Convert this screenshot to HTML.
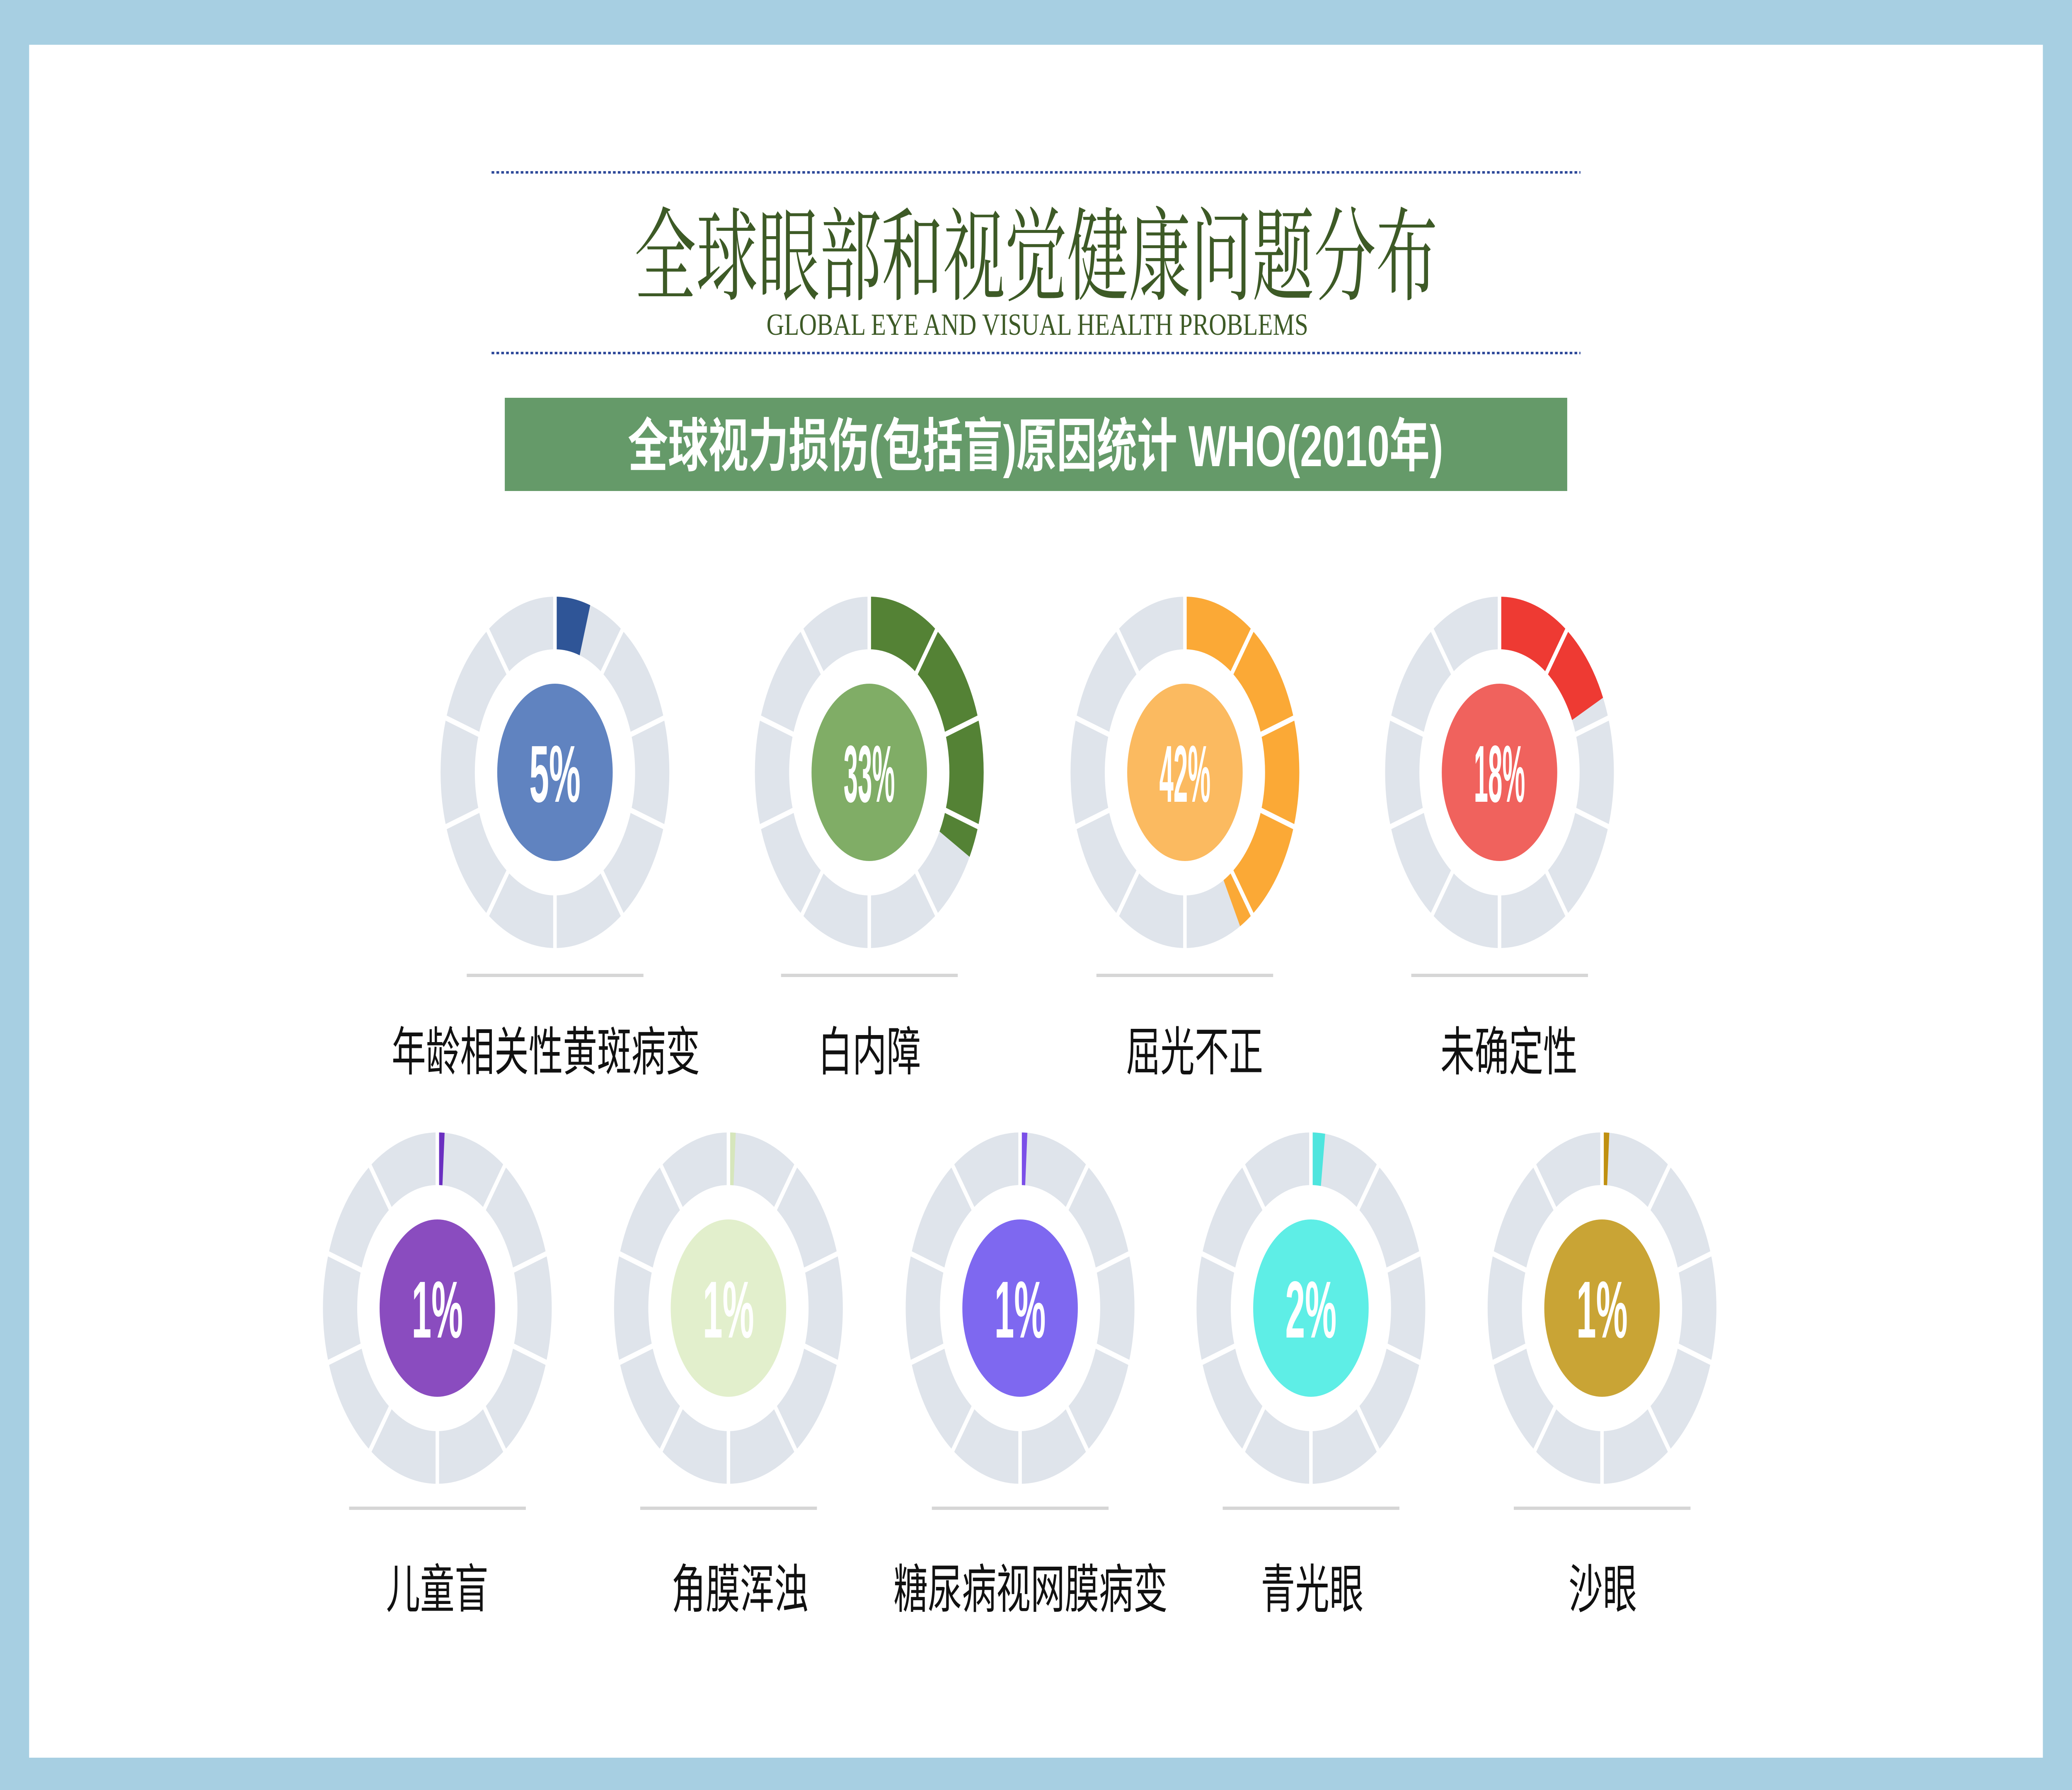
<!DOCTYPE html>
<html><head><meta charset="utf-8"><style>
html,body{margin:0;padding:0;background:#a7cfe2;overflow:hidden;}
svg{display:block;width:100vw;height:100vh;}
</style></head><body>
<svg viewBox="0 0 7680 4320" preserveAspectRatio="none" xmlns="http://www.w3.org/2000/svg">
<defs>
<g id="ring"><circle r="360.5" fill="none" stroke="#dfe4eb" stroke-width="127"/></g>
<g id="spokes" stroke="#fff" stroke-width="13">
<line x1="0" y1="-285" x2="0" y2="-440" transform="rotate(0)"/>
<line x1="0" y1="-285" x2="0" y2="-440" transform="rotate(36)"/>
<line x1="0" y1="-285" x2="0" y2="-440" transform="rotate(72)"/>
<line x1="0" y1="-285" x2="0" y2="-440" transform="rotate(108)"/>
<line x1="0" y1="-285" x2="0" y2="-440" transform="rotate(144)"/>
<line x1="0" y1="-285" x2="0" y2="-440" transform="rotate(180)"/>
<line x1="0" y1="-285" x2="0" y2="-440" transform="rotate(216)"/>
<line x1="0" y1="-285" x2="0" y2="-440" transform="rotate(252)"/>
<line x1="0" y1="-285" x2="0" y2="-440" transform="rotate(288)"/>
<line x1="0" y1="-285" x2="0" y2="-440" transform="rotate(324)"/>
</g>
</defs>
<rect x="0" y="0" width="7680" height="4320" fill="#a7cfe2"/>
<rect x="108" y="108" width="7464" height="4134" fill="#ffffff"/>
<line x1="1822" y1="416" x2="5858" y2="416" stroke="#2f4a9a" stroke-width="6" stroke-dasharray="10,8"/>
<line x1="1822" y1="852" x2="5858" y2="852" stroke="#2f4a9a" stroke-width="6" stroke-dasharray="10,8"/>
<text x="2351" y="705" font-family="'Liberation Serif','Noto Serif CJK SC',serif" font-size="245" fill="#3d5a26" textLength="2978" lengthAdjust="spacingAndGlyphs">全球眼部和视觉健康问题分布</text>
<text x="2841" y="808" font-family="'Liberation Serif',serif" font-size="74" fill="#3d5a26" textLength="2008" lengthAdjust="spacingAndGlyphs">GLOBAL EYE AND VISUAL HEALTH PROBLEMS</text>
<rect x="1871" y="960" width="3938" height="225" fill="#659a69"/>
<text x="2327" y="1125" font-family="'Liberation Sans','Noto Sans CJK SC',sans-serif" font-weight="bold" font-size="140" fill="#fff" textLength="3022" lengthAdjust="spacingAndGlyphs">全球视力损伤(包括盲)原因统计 WHO(2010年)</text>

<g font-family="'Liberation Sans',sans-serif" font-weight="bold" font-size="195" fill="#fff" text-anchor="middle">
<g transform="translate(2057,1864)">
<use href="#ring"/>
<circle r="360.5" fill="none" stroke="#2f5597" stroke-width="127" stroke-dasharray="113 3000" transform="rotate(-90)"/>
<use href="#spokes"/>
<circle r="214" fill="#6083c0"/>
<text y="71" textLength="190" lengthAdjust="spacingAndGlyphs">5%</text>
</g>
<g transform="translate(3222,1864)">
<use href="#ring"/>
<circle r="360.5" fill="none" stroke="#548235" stroke-width="127" stroke-dasharray="747 3000" transform="rotate(-90)"/>
<use href="#spokes"/>
<circle r="214" fill="#80ad66"/>
<text y="71" textLength="190" lengthAdjust="spacingAndGlyphs">33%</text>
</g>
<g transform="translate(4392,1864)">
<use href="#ring"/>
<circle r="360.5" fill="none" stroke="#fba936" stroke-width="127" stroke-dasharray="951 3000" transform="rotate(-90)"/>
<use href="#spokes"/>
<circle r="214" fill="#fbba60"/>
<text y="71" textLength="190" lengthAdjust="spacingAndGlyphs">42%</text>
</g>
<g transform="translate(5558,1864)">
<use href="#ring"/>
<circle r="360.5" fill="none" stroke="#ee3a33" stroke-width="127" stroke-dasharray="408 3000" transform="rotate(-90)"/>
<use href="#spokes"/>
<circle r="214" fill="#f0625d"/>
<text y="71" textLength="190" lengthAdjust="spacingAndGlyphs">18%</text>
</g>
<g transform="translate(1621,3157)">
<use href="#ring"/>
<circle r="360.5" fill="none" stroke="#6a2fc0" stroke-width="127" stroke-dasharray="23 3000" transform="rotate(-90)"/>
<use href="#spokes"/>
<circle r="214" fill="#8a4cbf"/>
<text y="71" textLength="190" lengthAdjust="spacingAndGlyphs">1%</text>
</g>
<g transform="translate(2700,3157)">
<use href="#ring"/>
<circle r="360.5" fill="none" stroke="#d6e6bc" stroke-width="127" stroke-dasharray="23 3000" transform="rotate(-90)"/>
<use href="#spokes"/>
<circle r="214" fill="#e2efcc"/>
<text y="71" textLength="190" lengthAdjust="spacingAndGlyphs">1%</text>
</g>
<g transform="translate(3781,3157)">
<use href="#ring"/>
<circle r="360.5" fill="none" stroke="#7b4fe8" stroke-width="127" stroke-dasharray="23 3000" transform="rotate(-90)"/>
<use href="#spokes"/>
<circle r="214" fill="#7e68f0"/>
<text y="71" textLength="190" lengthAdjust="spacingAndGlyphs">1%</text>
</g>
<g transform="translate(4859,3157)">
<use href="#ring"/>
<circle r="360.5" fill="none" stroke="#4ee5de" stroke-width="127" stroke-dasharray="45 3000" transform="rotate(-90)"/>
<use href="#spokes"/>
<circle r="214" fill="#5eeee6"/>
<text y="71" textLength="190" lengthAdjust="spacingAndGlyphs">2%</text>
</g>
<g transform="translate(5938,3157)">
<use href="#ring"/>
<circle r="360.5" fill="none" stroke="#c09010" stroke-width="127" stroke-dasharray="23 3000" transform="rotate(-90)"/>
<use href="#spokes"/>
<circle r="214" fill="#c9a435"/>
<text y="71" textLength="190" lengthAdjust="spacingAndGlyphs">1%</text>
</g>
</g>

<g fill="#d6d6d6">
<rect x="1730" y="2350" width="655" height="8"/>
<rect x="2895" y="2350" width="655" height="8"/>
<rect x="4064" y="2350" width="655" height="8"/>
<rect x="5231" y="2350" width="655" height="8"/>
<rect x="1294" y="3636" width="655" height="8"/>
<rect x="2373" y="3636" width="655" height="8"/>
<rect x="3454" y="3636" width="655" height="8"/>
<rect x="4532" y="3636" width="655" height="8"/>
<rect x="5611" y="3636" width="655" height="8"/>
</g>

<g font-family="'Liberation Sans','Noto Sans CJK SC',sans-serif" font-size="127" fill="#111" text-anchor="middle">
<text x="2023" y="2583">年龄相关性黄斑病变</text>
<text x="3223" y="2583">白内障</text>
<text x="4428" y="2583">屈光不正</text>
<text x="5593" y="2583">未确定性</text>
<text x="1621" y="3880">儿童盲</text>
<text x="2743" y="3880">角膜浑浊</text>
<text x="3820" y="3880">糖尿病视网膜病变</text>
<text x="4864" y="3880">青光眼</text>
<text x="5941" y="3880">沙眼</text>
</g>
</svg>
</body></html>
